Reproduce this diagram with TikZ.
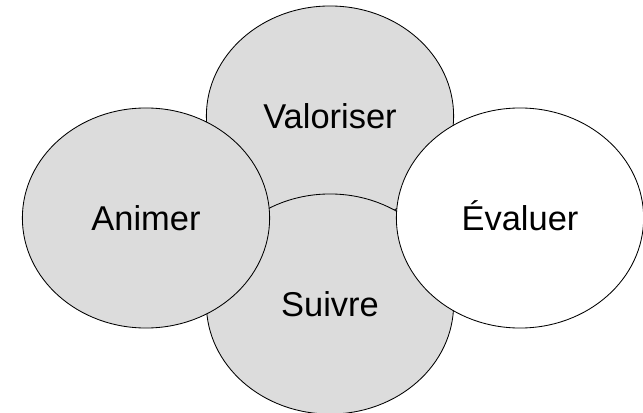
\documentclass[tikz,border=0pt]{standalone}
\usepackage{fontspec}
\setmainfont{Liberation Sans}
\usetikzlibrary{positioning,shapes.geometric}
\definecolor{cellgray}{HTML}{DCDCDC}

\begin{document}
\begin{tikzpicture}[
    x=0.025cm, y=-0.025cm,
    font=\fontsize{24.5}{29}\selectfont,
    cell/.style={draw=black, ellipse, line width=0.6pt, fill=cellgray,
                 inner sep=0pt, text height=17.5pt, text depth=0pt,
                 minimum width=6.18cm, minimum height=5.5cm},
    lastcell/.style={cell, fill=white},
]
\useasboundingbox (0,0) rectangle (643,413);
% top and bottom
\node[cell] (valoriser) at (330,116) {Valoriser};
\node[cell] (suivre) at (330,304) {Suivre};
% left and right
\node[cell] (animer) at (146,218) {Animer};
\node[lastcell] (evaluer) at (520,218) {Évaluer};
\end{tikzpicture}
\end{document}
